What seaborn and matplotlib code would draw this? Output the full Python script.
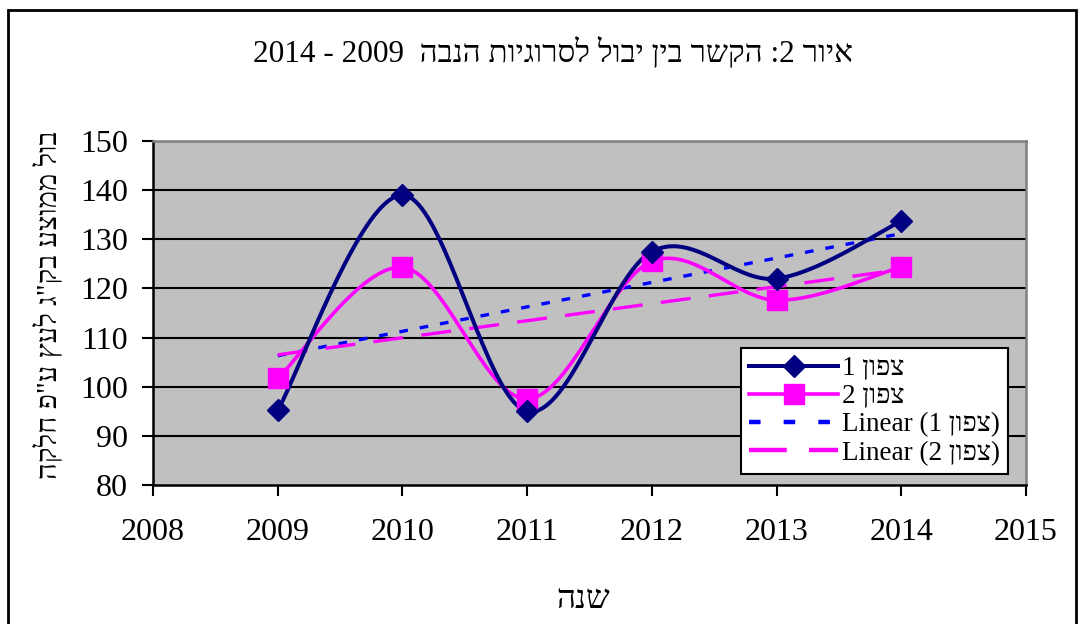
import numpy as np
import pandas as pd
import matplotlib
matplotlib.use("Agg")
import matplotlib.pyplot as plt
from matplotlib.lines import Line2D
from matplotlib.patches import Rectangle
import seaborn as sns

# ---- data ----
years = [2009, 2010, 2011, 2012, 2013, 2014]
north1 = [95.2, 139.0, 95.0, 127.5, 122.0, 133.7]
north2 = [101.7, 124.3, 97.5, 125.5, 117.6, 124.4]
x_ticks = [2008, 2009, 2010, 2011, 2012, 2013, 2014, 2015]
y_ticks = [80, 90, 100, 110, 120, 130, 140, 150]

# Hebrew texts (logical order); reversed for left-to-right rendering
title_heb = "איור 2: הקשר בין יבול לסרוגיות הנבה"
title_years = ["2009", "2014"]
ylabel_heb = 'בול ממוצע בק"ג לעץ ע"פ חלקה'
xlabel_heb = "שנה"
north_word = "צפון"


def vis(s):
    """visual (LTR) order for a simple Hebrew string with single-digit numbers"""
    return s[::-1]


def smooth(xs, ys, n=40):
    """Excel-like smoothed line (Catmull-Rom Bezier) through the points"""
    P = np.column_stack([xs, ys]).astype(float)
    ext = np.vstack([P[0], P, P[-1]])
    out = []
    t = np.linspace(0, 1, n)[:, None]
    for i in range(len(P) - 1):
        p0, p1, p2, p3 = ext[i], ext[i + 1], ext[i + 2], ext[i + 3]
        c1 = p1 + (p2 - p0) / 6
        c2 = p2 - (p3 - p1) / 6
        seg = ((1 - t) ** 3) * p1 + 3 * ((1 - t) ** 2) * t * c1 + 3 * (1 - t) * t ** 2 * c2 + t ** 3 * p2
        out.append(seg if i == 0 else seg[1:])
    out = np.vstack(out)
    return out[:, 0], out[:, 1]


plt.rcParams['font.family'] = ['Liberation Serif', 'DejaVu Serif', 'DejaVu Sans']

NAVY = "#000080"
PINK = "#FF00FF"
BLUE = "#0000FF"

fig = plt.figure(figsize=(10.84, 6.24), dpi=100)
fig.patch.set_facecolor("white")
ax = fig.add_axes([153 / 1084, 1 - 485 / 624, (1026 - 153) / 1084, (485 - 141) / 624])
ax.set_facecolor("#C0C0C0")

df = pd.DataFrame({"year": years, "n1": north1, "n2": north2})

# trend lines (seaborn linear fit)
sns.regplot(data=df, x="year", y="n1", ax=ax, scatter=False, ci=None, truncate=True,
            line_kws=dict(color=BLUE, lw=2.4, dashes=(2.6, 3.6), zorder=3))
sns.regplot(data=df, x="year", y="n2", ax=ax, scatter=False, ci=None, truncate=True,
            line_kws=dict(color=PINK, lw=2.4, dashes=(9, 5.5), zorder=3))

# smoothed series
sx1, sy1 = smooth(years, north1)
sx2, sy2 = smooth(years, north2)
sns.lineplot(x=sx2, y=sy2, ax=ax, color=PINK, lw=2.6, sort=False, legend=False, zorder=4)
sns.lineplot(x=sx1, y=sy1, ax=ax, color=NAVY, lw=2.9, sort=False, legend=False, zorder=5)
ax.plot(years, north2, ls="none", marker="s", ms=14, color=PINK, mec=PINK, zorder=6)
ax.plot(years, north1, ls="none", marker="D", ms=11, color=NAVY, mec=NAVY, zorder=7)

ax.set_xlim(2008, 2015)
ax.set_ylim(80, 150)
ax.set_xticks(x_ticks)
ax.set_yticks(y_ticks)
ax.set_xticklabels([str(v) for v in x_ticks])
ax.set_yticklabels([str(v) for v in y_ticks])
ax.tick_params(axis="both", direction="out", length=8, width=1.5, color="black",
               labelsize=23, labelcolor="black")
ax.tick_params(axis="y", pad=10)
ax.tick_params(axis="x", pad=16)
ax.grid(False)
for yv in y_ticks[1:-1]:
    ax.axhline(yv, color="black", lw=1.5, zorder=1)

for side in ["left", "bottom"]:
    ax.spines[side].set_color("black")
    ax.spines[side].set_linewidth(1.8)
for side in ["top", "right"]:
    ax.spines[side].set_color("#808080")
    ax.spines[side].set_linewidth(1.8)

ax.set_xlabel("")
ax.set_ylabel("")

# legend
handles = [
    Line2D([], [], color=NAVY, lw=2.9, marker="D", ms=11),
    Line2D([], [], color=PINK, lw=2.6, marker="s", ms=14),
    Line2D([], [], color=BLUE, lw=3.2, dashes=(2.6, 5.2)),
    Line2D([], [], color=PINK, lw=3.2, dashes=(8.5, 5)),
]
labels = [
    "1 " + vis(north_word),
    "2 " + vis(north_word),
    "Linear (1 " + vis(north_word) + ")",
    "Linear (2 " + vis(north_word) + ")",
]
leg = ax.legend(handles, labels, loc="lower right", bbox_to_anchor=(0.979, 0.032),
                fontsize=19.5, frameon=True, fancybox=False, framealpha=1,
                edgecolor="black", facecolor="white", handlelength=3.3,
                handletextpad=0.12, labelspacing=0.12, borderpad=0.3,
                borderaxespad=0)
leg.get_frame().set_linewidth(1.5)
leg.set_zorder(10)

# texts
fig.text(553 / 1084, 1 - 53 / 624,
         " - ".join(reversed(title_years)) + "  " + vis(title_heb),
         ha="center", va="center", fontsize=22.5)
fig.text(48 / 1084, 1 - 305 / 624, vis(ylabel_heb), rotation=90,
         ha="center", va="center", fontsize=21)
fig.text(583 / 1084, 1 - 600 / 624, vis(xlabel_heb), ha="center", va="center", fontsize=24)

# outer chart border
fig.patches.append(Rectangle((8 / 1084, -0.05), (1076 - 8) / 1084, 1 - 10 / 624 + 0.05,
                             transform=fig.transFigure, fill=False, edgecolor="black",
                             lw=2, zorder=0))

fig.savefig("out.png", dpi=100)
